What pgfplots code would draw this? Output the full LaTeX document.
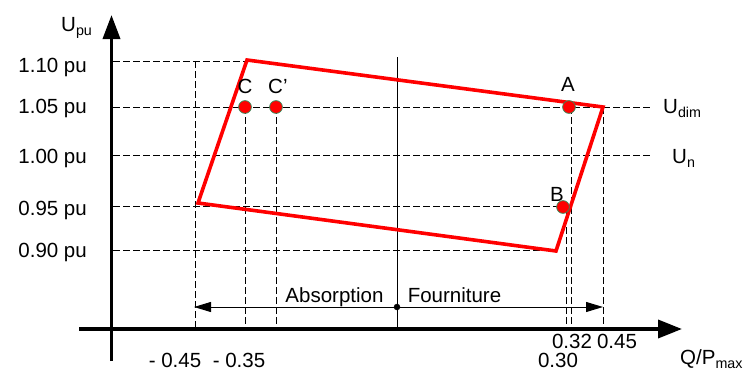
\documentclass[border=0pt]{standalone}
\usepackage{pgfplots}
\pgfplotsset{compat=1.18}
\usepackage{fontspec}
\setmainfont{Liberation Sans}
\usetikzlibrary{arrows.meta}

\definecolor{ptedge}{RGB}{50,140,90}
\newcommand{\sub}[1]{\raisebox{-0.22em}{\fontsize{14.3}{15}\selectfont #1}}
\tikzset{
  lbl/.style={inner sep=0pt, font=\fontsize{20.5}{24}\selectfont},
  dsh/.style={black, line width=1pt, dash pattern=on 6.5pt off 3.5pt},
}

\begin{document}
\begin{tikzpicture}
\begin{axis}[
  width=745pt, height=372pt, scale only axis,
  xmin=0, xmax=745, ymin=0, ymax=372, y dir=reverse,
  hide axis, clip=false,
]
% frame of the page
\addplot[draw=none] coordinates {(0,0) (745,372)};

% dashed guides, horizontal
\addplot[dsh] coordinates {(113,61) (247,61)};
\addplot[dsh] coordinates {(113,107) (652,107)};
\addplot[dsh] coordinates {(113,155) (652,155)};
\addplot[dsh] coordinates {(113,206) (562,206)};
\addplot[dsh] coordinates {(113,250) (556,250)};
% dashed guides, vertical
\addplot[dsh] coordinates {(195,61) (195,329)};
\addplot[dsh] coordinates {(245,107) (245,329)};
\addplot[dsh] coordinates {(276,107) (276,329)};
\addplot[dsh] coordinates {(566,207) (566,327)};
\addplot[dsh] coordinates {(571,107) (571,329)};
\addplot[dsh] coordinates {(603,107) (603,329)};

% centre line and range arrows
\addplot[black, line width=1pt] coordinates {(397,57) (397,329)};
\addplot[black, line width=1pt, {Triangle[length=17pt,width=10pt]}-{Triangle[length=17pt,width=10pt]}]
  coordinates {(194,307) (603,307)};
\addplot[only marks, mark=*, mark size=3pt, black] coordinates {(397,307)};

% axes
\addplot[black, line width=3.6pt, -{Triangle[length=24pt,width=17pt]}] coordinates {(111.5,361) (111.5,15)};
\addplot[black, line width=3.6pt, -{Triangle[length=24pt,width=18pt]}] coordinates {(79,329) (682,329)};

% operating domain
\addplot[red, line width=3.6pt, line join=miter] coordinates {(247,60) (603,107) (556,251) (198,203) (247,60) (603,107)};

% points C, C', A, B
\addplot[only marks, mark=*, mark size=6.4pt, mark options={fill=red, draw=ptedge, line width=0.7pt}]
  coordinates {(245,107) (276,107) (569,107) (563,207)};

% labels
\node[lbl, anchor=base east] at (axis cs:87,72.5) {1.10 pu};
\node[lbl, anchor=base east] at (axis cs:87,113.5) {1.05 pu};
\node[lbl, anchor=base east] at (axis cs:87,163) {1.00 pu};
\node[lbl, anchor=base east] at (axis cs:87,215) {0.95 pu};
\node[lbl, anchor=base east] at (axis cs:87,257) {0.90 pu};
\node[lbl, anchor=base west] at (axis cs:61,31) {U\sub{pu}};
\node[lbl, anchor=base west] at (axis cs:663,113) {U\sub{dim}};
\node[lbl, anchor=base west] at (axis cs:672,163) {U\sub{n}};
\node[lbl, anchor=base] at (axis cs:568,91) {A};
\node[lbl, anchor=base] at (axis cs:557,201) {B};
\node[lbl, anchor=base] at (axis cs:245,93) {C};
\node[lbl, anchor=base west] at (axis cs:268,93) {C'};
\node[lbl, anchor=base] at (axis cs:334.5,302) {Absorption};
\node[lbl, anchor=base] at (axis cs:454.5,302) {Fourniture};
\node[lbl, anchor=base] at (axis cs:175,367) {- 0.45};
\node[lbl, anchor=base] at (axis cs:239,367) {- 0.35};
\node[lbl, anchor=base] at (axis cs:572,348) {0.32};
\node[lbl, anchor=base] at (axis cs:617,348) {0.45};
\node[lbl, anchor=base] at (axis cs:558,367) {0.30};
\node[lbl, anchor=base west] at (axis cs:680,364) {Q/P\sub{max}};
\end{axis}
\end{tikzpicture}
\end{document}
